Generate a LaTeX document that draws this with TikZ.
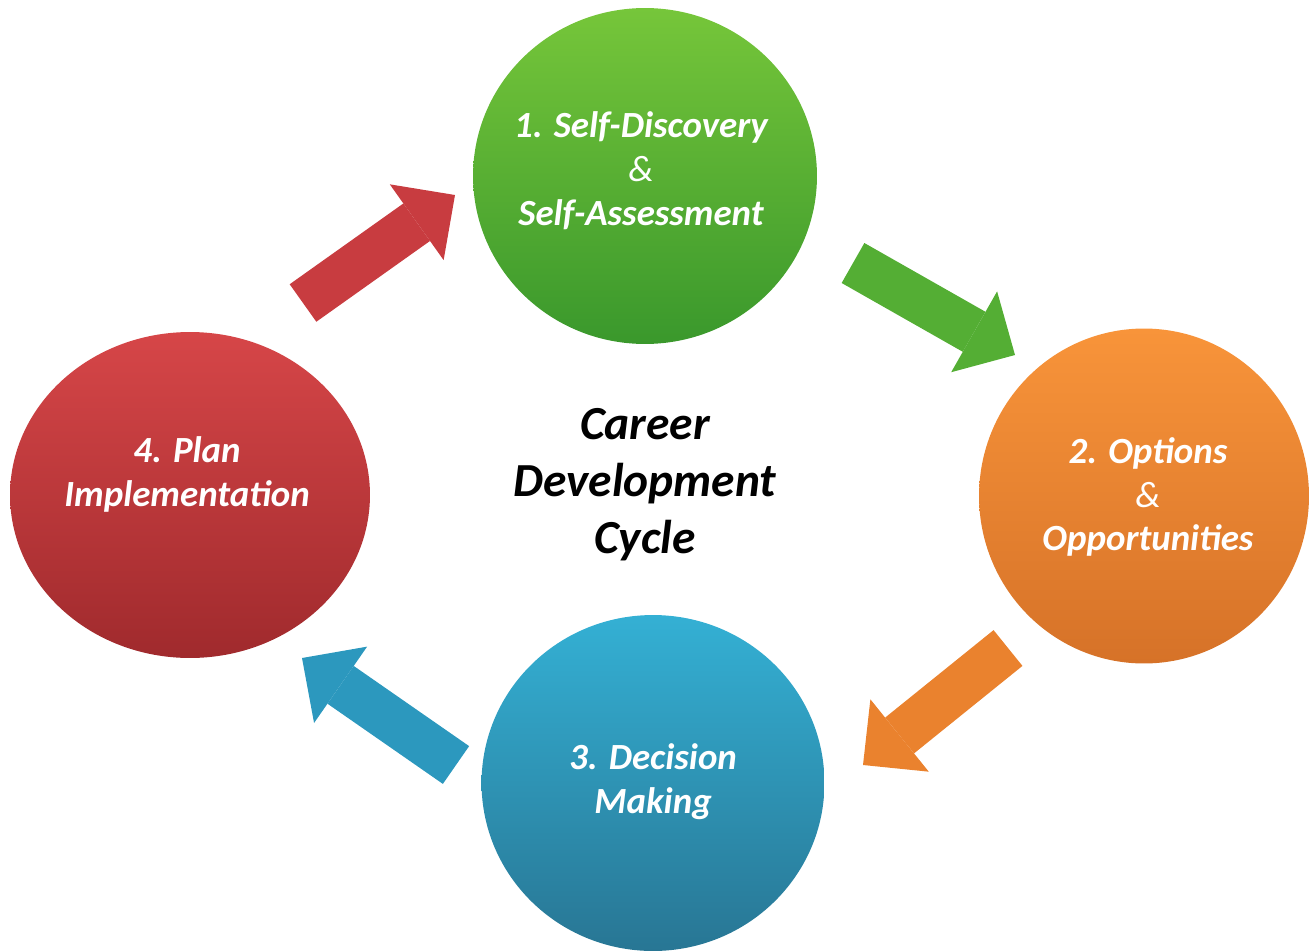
\documentclass[tikz,border=0pt]{standalone}
\usepackage{fontspec}
\setmainfont{Carlito}
\usetikzlibrary{shapes.geometric,arrows.meta}

\begin{document}
\begin{tikzpicture}[x=0.02cm,y=-0.02cm,
  cyc/.style={ellipse,draw=none,inner sep=0pt},
  lbl/.style={text=white,align=center,font=\fontsize{21}{25}\selectfont\bfseries\itshape},
  blk/.style={line width=0.92cm,-{Triangle[width=1.86cm,length=0.94cm,line width=0pt]}}]
\definecolor{cd_green}{RGB}{118,198,58}   %#76C63A
\definecolor{cd_greenb}{RGB}{58,152,44}   %#3A982C
\definecolor{cd_orange}{RGB}{248,148,58}  %#F8943A
\definecolor{cd_orangeb}{RGB}{214,114,40} %#D67228
\definecolor{cd_blue}{RGB}{52,176,212}    %#34B0D4
\definecolor{cd_blueb}{RGB}{40,118,148}   %#287694
\definecolor{cd_red}{RGB}{214,70,72}      %#D64648
\definecolor{cd_redb}{RGB}{160,42,45}     %#A02A2D

\useasboundingbox (0,0) rectangle (1314,950);

% the four steps
\node [cyc,minimum width=6.88cm,minimum height=6.72cm,top color=cd_green,bottom color=cd_greenb] (self) at (645,176) {};
\node [cyc,minimum width=6.6cm,minimum height=6.7cm,top color=cd_orange,bottom color=cd_orangeb] (opts) at (1144,496) {};
\node [cyc,minimum width=6.86cm,minimum height=6.72cm,top color=cd_blue,bottom color=cd_blueb] (dec) at (653,783) {};
\node [cyc,minimum width=7.2cm,minimum height=6.52cm,top color=cd_red,bottom color=cd_redb] (plan) at (190,495) {};

\node [lbl] (self-t) at (641,171) {1. Self-Discovery\\{\mdseries\&}\\Self-Assessment};
\node [lbl] (opts-t) at (1148,497) {2. Options\\{\mdseries\&}\\Opportunities};
\node [lbl] (dec-t)  at (653,782) {3. Decision\\Making};
\node [lbl] (plan-t) at (187,474) {4. Plan\\Implementation};

\node [align=center,font=\fontsize{27}{32.5}\selectfont\bfseries\itshape] (title) at (645,485) {Career\\Development\\Cycle};

% block arrows
\coordinate (RA) at (303,303);
\coordinate (RB) at (455,195);
\coordinate (GA) at (853,263);
\coordinate (GB) at (1015,355);
\coordinate (OA) at (1008,648);
\coordinate (OB) at (863,765);
\coordinate (BA) at (456,765);
\coordinate (BB) at (302,658);

\draw [blk,color={rgb,255:red,200;green,60;blue,64}] (RA) -- (RB);
\draw [blk,color={rgb,255:red,84;green,174;blue,52}] (GA) -- (GB);
\draw [blk,color={rgb,255:red,234;green,130;blue,46}] (OA) -- (OB);
\draw [blk,color={rgb,255:red,44;green,152;blue,190}] (BA) -- (BB);

\end{tikzpicture}
\end{document}
